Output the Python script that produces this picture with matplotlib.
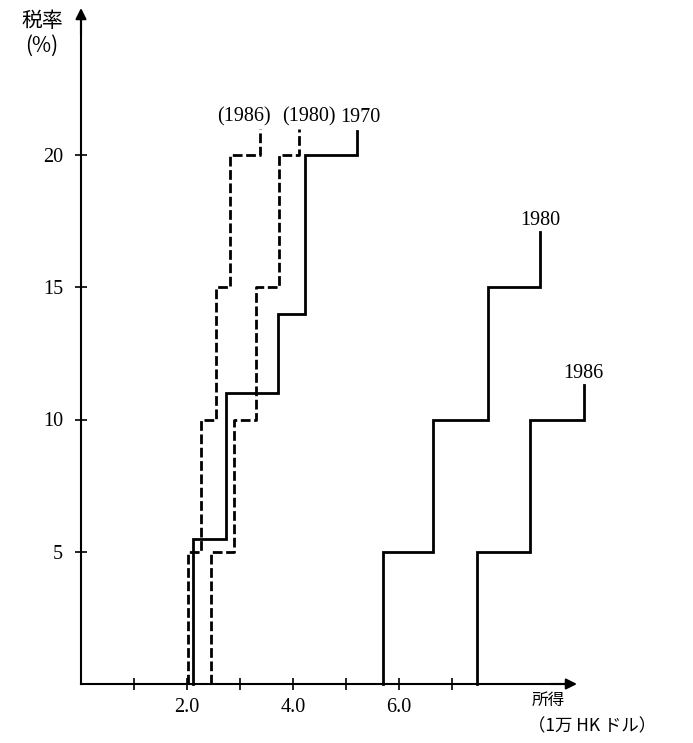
import matplotlib.pyplot as plt

# step breakpoints (income, 10k HK$) and tax rates (%)
inc_1970 = [2.11, 2.73, 3.72, 4.23, 5.20]
rate_1970 = [5.5, 11, 14, 20]
tail_1970 = 20.9

inc_1980_adj = [2.45, 2.89, 3.30, 3.73, 4.11]
rate_1980_adj = [5, 10, 15, 20]
tail_1980_adj = 21.0

inc_1986_adj = [2.02, 2.26, 2.55, 2.81, 3.38]
rate_1986_adj = [5, 10, 15, 20]
tail_1986_adj = 21.0

inc_1980 = [5.69, 6.64, 7.68, 8.66]
rate_1980 = [5, 10, 15]
tail_1980 = 17.1

inc_1986 = [7.47, 8.47, 9.49]
rate_1986 = [5, 10]
tail_1986 = 11.3

x_ticks = [1, 2, 3, 4, 5, 6, 7]
x_labels = ['', '2.0', '', '4.0', '', '6.0', '']
y_ticks = [5, 10, 15, 20]

SERIF = 'Liberation Serif'
JP = ['Noto Sans CJK JP', 'DejaVu Sans']

W, H = 693, 743
X0, Y0 = 81, 684      # pixel of origin
SX, SY = 53.0, 26.45  # pixels per unit


def draw_steps(ax, inc, rates, tail, dashed):
    xs = [inc[0]] + list(inc)
    ys = [0] + list(rates) + [tail]
    ls = (0, (3.5, 1.3)) if dashed else '-'
    ax.step(xs, ys, where='post', color='black', lw=2.0, linestyle=ls,
            solid_joinstyle='miter')


fig = plt.figure(figsize=(W / 100, H / 100), dpi=100)
ax = fig.add_axes([0, 0, 1, 1])
ax.set_xlim(-X0 / SX, (W - X0) / SX)
ax.set_ylim(-(H - Y0) / SY, Y0 / SY)

draw_steps(ax, inc_1986_adj, rate_1986_adj, tail_1986_adj, True)
draw_steps(ax, inc_1980_adj, rate_1980_adj, tail_1980_adj, True)
draw_steps(ax, inc_1970, rate_1970, tail_1970, False)
draw_steps(ax, inc_1980, rate_1980, tail_1980, False)
draw_steps(ax, inc_1986, rate_1986, tail_1986, False)

# line labels
ax.text(3.08, 21.25, '(1986)', fontsize=14.5, family=SERIF, ha='center', va='baseline')
ax.text(4.30, 21.25, '(1980)', fontsize=14.5, family=SERIF, ha='center', va='baseline')
ax.text(5.28, 21.25, '1970', fontsize=14.5, family=SERIF, ha='center', va='baseline')
ax.text(8.66, 17.35, '1980', fontsize=14.5, family=SERIF, ha='center', va='baseline')
ax.text(9.47, 11.58, '1986', fontsize=14.5, family=SERIF, ha='center', va='baseline')

# axes with arrow heads
x_end = (577 - X0) / SX
y_end = (Y0 - 8) / SY
for side in ['top', 'right']:
    ax.spines[side].set_visible(False)
ax.spines['left'].set_position(('data', 0))
ax.spines['bottom'].set_position(('data', 0))
ax.spines['left'].set_bounds(0, y_end - 0.5)
ax.spines['bottom'].set_bounds(0, x_end - 0.25)
ax.spines['left'].set_linewidth(1.5)
ax.spines['bottom'].set_linewidth(1.5)
ax.annotate('', xy=(0, y_end), xytext=(0, y_end - 1.0), annotation_clip=False,
            arrowprops=dict(arrowstyle='-|>', color='black', lw=1.5,
                            mutation_scale=16, shrinkA=0, shrinkB=0))
ax.annotate('', xy=(x_end, 0), xytext=(x_end - 0.5, 0), annotation_clip=False,
            arrowprops=dict(arrowstyle='-|>', color='black', lw=1.5,
                            mutation_scale=16, shrinkA=0, shrinkB=0))

ax.set_xticks(x_ticks)
ax.set_xticklabels(x_labels, fontsize=14.5, family=SERIF)
ax.set_yticks(y_ticks)
ax.set_yticklabels([str(v) for v in y_ticks], fontsize=14.5, family=SERIF)
ax.tick_params(direction='inout', length=8, width=1.2, pad=6)
ax.tick_params(axis='y', pad=9)

# axis titles
fig.text(42 / W, 1 - 10 / H, '税率\n(%)', fontsize=15, family=JP,
         ha='center', va='top', linespacing=1.15)
fig.text(532 / W, 1 - 692 / H, '所得', fontsize=12, family=JP,
         ha='left', va='top')
fig.text(528 / W, 1 - 717 / H, '（1万 HK ドル）', fontsize=12.5, family=JP,
         ha='left', va='top')

fig.savefig('out.png', dpi=100)
plt.close(fig)
